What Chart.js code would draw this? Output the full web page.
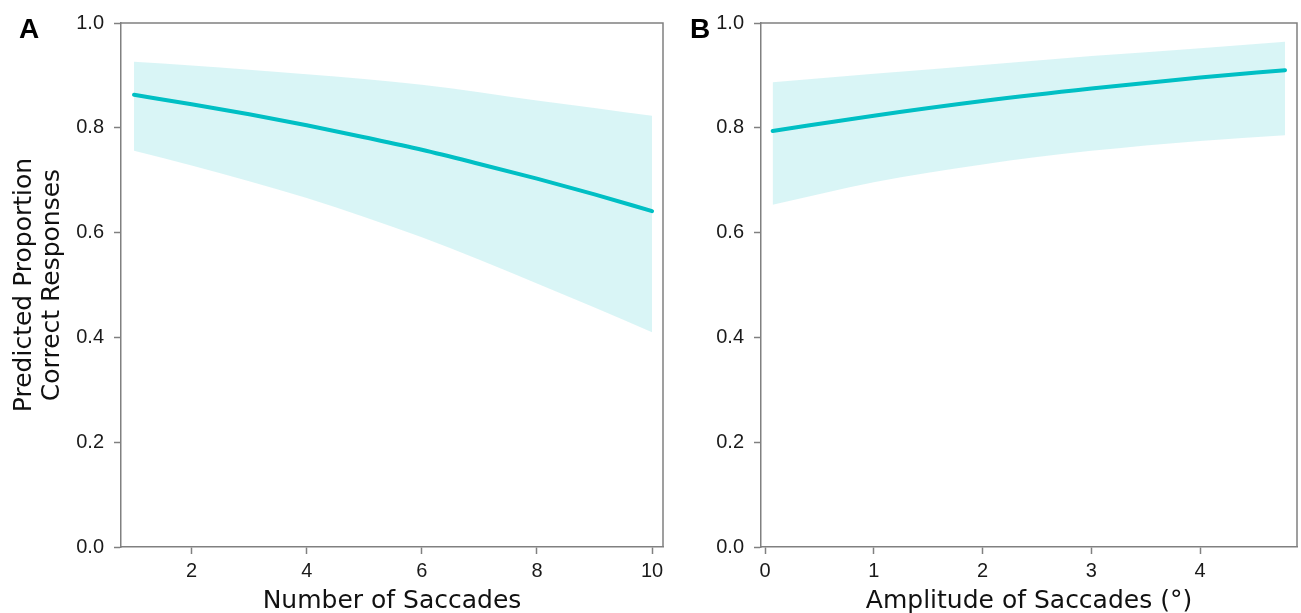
<!DOCTYPE html>
<html>
<head>
<meta charset="utf-8">
<script src="https://cdn.jsdelivr.net/npm/chart.js@4"></script>
<style>
  body { margin: 0; background: #fff; }
  #wrap { position: relative; width: 1301px; height: 613px; }
  canvas { position: absolute; top: 0; }
</style>
</head>
<body>
<div id="wrap">
  <canvas id="chartA" width="680" height="613" style="left:0"></canvas>
  <canvas id="chartB" width="621" height="613" style="left:680px"></canvas>
</div>
<script>
// panel A: number of saccades
var saccN = [1, 2, 3, 4, 5, 6, 7, 8, 9, 10];
var fitA = [0.863, 0.845, 0.826, 0.805, 0.782, 0.758, 0.731, 0.703, 0.673, 0.641];
var upperA = [0.926, 0.919, 0.911, 0.902, 0.893, 0.882, 0.868, 0.852, 0.838, 0.823];
var lowerA = [0.756, 0.728, 0.698, 0.666, 0.630, 0.591, 0.548, 0.503, 0.457, 0.410];

// panel B: amplitude of saccades (deg)
var amp = [0.07, 1, 2, 3, 4, 4.78];
var fitB = [0.794, 0.823, 0.851, 0.875, 0.896, 0.910];
var upperB = [0.887, 0.903, 0.920, 0.937, 0.952, 0.964];
var lowerB = [0.653, 0.696, 0.730, 0.756, 0.775, 0.786];

var yTicks = [0, 0.2, 0.4, 0.6, 0.8, 1.0];

var teal = '#00BFC4';
var band = 'rgba(0, 191, 196, 0.15)';
var axisGray = '#808080';
var tickFont = { family: 'Liberation Sans', size: 20 };
var titleFont = { family: 'DejaVu Sans', size: 25, lineHeight: 1.12 };

function pts(xs, ys) {
    return xs.map((x, i) => ({ x: x, y: ys[i] }));
}

// closes the box round the plot area and writes the panel letter
var boxPlugin = {
    id: 'box',
    afterDraw(chart, args, opts) {
        var ctx = chart.ctx, a = chart.chartArea;
        ctx.save();
        ctx.strokeStyle = axisGray;
        ctx.lineWidth = 1.5;
        ctx.beginPath();
        ctx.moveTo(a.left, a.top);
        ctx.lineTo(a.right, a.top);
        ctx.lineTo(a.right, a.bottom);
        ctx.stroke();
        ctx.fillStyle = '#000';
        ctx.font = 'bold 28px "Liberation Sans"';
        ctx.textBaseline = 'alphabetic';
        ctx.fillText(opts.letter, opts.x, 38);
        ctx.restore();
    }
};

function makeChart(id, xs, fit, up, lo, xOpts, yWidth, yTitle, padRight, letter, letterX) {
    return new Chart(document.getElementById(id), {
        type: 'line',
        data: {
            datasets: [
                { data: pts(xs, up), fill: '+1', backgroundColor: band, borderWidth: 0, pointRadius: 0,
                  cubicInterpolationMode: 'monotone', order: 2 },
                { data: pts(xs, lo), fill: false, borderWidth: 0, pointRadius: 0,
                  cubicInterpolationMode: 'monotone', order: 2 },
                { data: pts(xs, fit), fill: false, borderColor: teal, borderWidth: 4, pointRadius: 0,
                  cubicInterpolationMode: 'monotone', borderCapStyle: 'round', order: 0 }
            ]
        },
        options: {
            responsive: false,
            animation: false,
            layout: { padding: { top: 23, right: padRight, bottom: 0, left: 0 } },
            plugins: {
                legend: { display: false },
                tooltip: { enabled: false },
                box: { letter: letter, x: letterX }
            },
            scales: {
                x: {
                    type: 'linear',
                    min: xOpts.min,
                    max: xOpts.max,
                    afterFit: s => { s.height = 66; },
                    afterBuildTicks: s => { s.ticks = xOpts.ticks.map(v => ({ value: v })); },
                    ticks: { font: tickFont, color: '#1a1a1a', padding: 5, maxRotation: 0 },
                    grid: { drawOnChartArea: false, tickLength: 7, tickColor: axisGray, tickWidth: 1.5 },
                    border: { color: axisGray, width: 1.5 },
                    title: { display: true, text: xOpts.title, font: titleFont, color: '#111', padding: { top: 0, bottom: -2 } }
                },
                y: {
                    min: 0,
                    max: 1,
                    afterFit: s => { s.width = yWidth; },
                    afterBuildTicks: s => { s.ticks = yTicks.map(v => ({ value: v })); },
                    ticks: { font: tickFont, color: '#1a1a1a', padding: 10, callback: v => v.toFixed(1) },
                    grid: { drawOnChartArea: false, tickLength: 7, tickColor: axisGray, tickWidth: 1.5 },
                    border: { color: axisGray, width: 1.5 },
                    title: { display: !!yTitle, text: yTitle, font: titleFont, color: '#111', padding: { top: 10, bottom: 0 } }
                }
            }
        },
        plugins: [boxPlugin]
    });
}

makeChart('chartA', saccN, fitA, upperA, lowerA,
    { min: 0.774, max: 10.19, ticks: [2, 4, 6, 8, 10], title: 'Number of Saccades' },
    121, ['Predicted Proportion', 'Correct Responses'], 17, 'A', 19);

makeChart('chartB', amp, fitB, upperB, lowerB,
    { min: -0.037, max: 4.89, ticks: [0, 1, 2, 3, 4], title: 'Amplitude of Saccades (°)' },
    81, '', 4, 'B', 10);
</script>
</body>
</html>
